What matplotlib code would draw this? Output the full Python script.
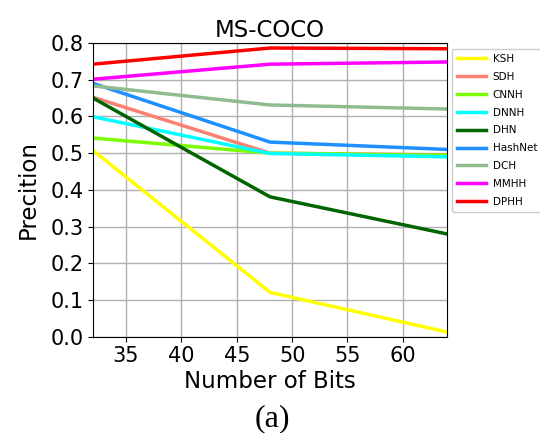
import matplotlib
matplotlib.use("Agg")
import matplotlib.pyplot as plt

bits = [32, 48, 64]

ksh = [0.507, 0.121, 0.013]
sdh = [0.652, 0.500, 0.495]
cnnh = [0.541, 0.500, 0.494]
dnnh = [0.599, 0.499, 0.490]
dhn = [0.650, 0.381, 0.280]
hashnet = [0.690, 0.530, 0.510]
dch = [0.683, 0.631, 0.620]
mmhh = [0.701, 0.742, 0.748]
dphh = [0.742, 0.786, 0.784]

names = ["KSH", "SDH", "CNNH", "DNNH", "DHN", "HashNet", "DCH", "MMHH", "DPHH"]
series = [ksh, sdh, cnnh, dnnh, dhn, hashnet, dch, mmhh, dphh]
colors = ["yellow", "salmon", "lawngreen", "cyan", "darkgreen",
          "dodgerblue", "darkseagreen", "magenta", "red"]

fig = plt.figure(figsize=(5.4, 4.33), dpi=100)
ax = fig.add_axes([0.172, 0.222, 0.656, 0.679])

for name, vals, c in zip(names, series, colors):
    ax.plot(bits, vals, color=c, linewidth=2.5, label=name)

ax.set_xlim(32, 64)
ax.set_ylim(0, 0.8)
ax.set_xticks([35, 40, 45, 50, 55, 60])
ax.set_yticks([0.0, 0.1, 0.2, 0.3, 0.4, 0.5, 0.6, 0.7, 0.8])
ax.tick_params(labelsize=15, pad=3)
ax.grid(True, color="#b0b0b0", linewidth=1)
ax.set_axisbelow(True)
ax.set_title("MS-COCO", fontsize=16.5, pad=4)
ax.set_xlabel("Number of Bits", fontsize=16.5, labelpad=3)
ax.set_ylabel("Precition", fontsize=16.5, labelpad=8)

fig.legend(loc="upper left", bbox_to_anchor=(0.837, 0.887), fontsize=7.5,
           handlelength=2.8, handletextpad=0.6, labelspacing=0.75,
           borderpad=0.5, borderaxespad=0, framealpha=1)

fig.text(0.505, 0.015, "(a)", fontsize=23, family="Liberation Serif", ha="center")

fig.savefig("out.png", dpi=100)
